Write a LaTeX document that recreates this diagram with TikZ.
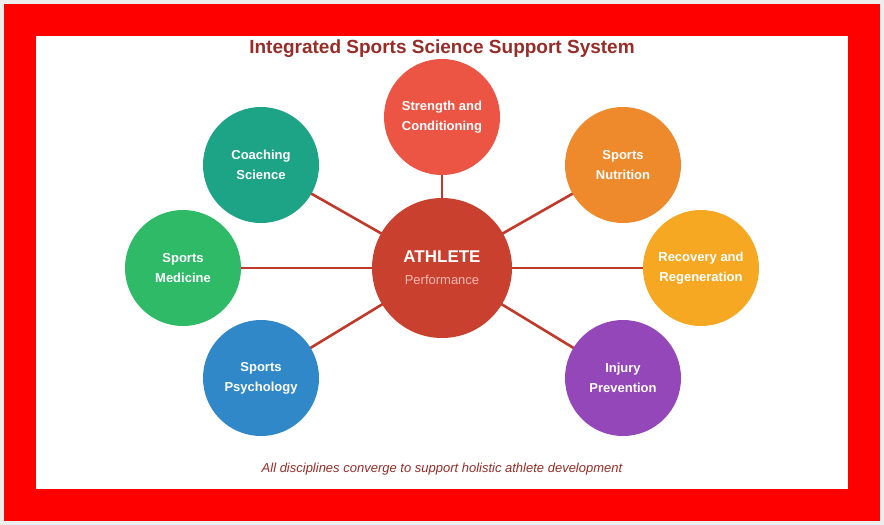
\documentclass[tikz,border=0pt]{standalone}
\usepackage{fontspec}
\setmainfont{Liberation Sans}
\definecolor{pagegray}{HTML}{EDEDED}
\definecolor{framered}{HTML}{FF0000}
\definecolor{titlered}{HTML}{962D28}
\definecolor{linkred}{HTML}{C0392B}
\definecolor{centerred}{HTML}{C9402F}
\definecolor{perfpink}{HTML}{F5B7B1}
\definecolor{cStrength}{HTML}{EC5443}
\definecolor{cCoach}{HTML}{1DA486}
\definecolor{cNutri}{HTML}{EF8A2C}
\definecolor{cRecov}{HTML}{F6A822}
\definecolor{cMed}{HTML}{2EBA66}
\definecolor{cPsych}{HTML}{3188C8}
\definecolor{cInjury}{HTML}{9447B8}
\tikzset{
  sat/.style={circle, minimum size=116pt, inner sep=0pt, text=white, align=center,
    font=\fontsize{13}{20}\selectfont\bfseries},
  hub/.style={circle, minimum size=140pt, inner sep=0pt, fill=centerred, align=center},
  link/.style={draw=linkred, line width=2.6pt}
}
\begin{document}
\begin{tikzpicture}[x=1pt,y=-1pt]
\fill[pagegray] (0,0) rectangle (884,525);
\useasboundingbox (0,0) rectangle (884,525);
\fill[framered] (4,4) rectangle (880,521);
\fill[white] (36,36) rectangle (848,489);
\node[font=\fontsize{19}{22}\selectfont\bfseries, text=titlered] (title) at (442,49) {Integrated Sports Science Support System};
\coordinate (hc) at (442,268);
\coordinate (p1) at (442,117);
\coordinate (p2) at (261,165);
\coordinate (p3) at (623,165);
\coordinate (p4) at (183,268);
\coordinate (p5) at (701,268);
\coordinate (p6) at (261,378);
\coordinate (p7) at (623,378);
\foreach \p in {p1,p2,p3,p4,p5,p6,p7} \draw[link] (hc) -- (\p);
\node[hub] (hub) at (hc) {\fontsize{17}{22}\selectfont\bfseries\color{white}ATHLETE\\[10pt]\fontsize{13}{16}\selectfont\color{perfpink}Performance};
\node[sat, fill=cStrength] (strength) at (p1) {Strength and\\Conditioning};
\node[sat, fill=cCoach] (coach) at (p2) {Coaching\\Science};
\node[sat, fill=cNutri] (nutri) at (p3) {Sports\\Nutrition};
\node[sat, fill=cMed] (med) at (p4) {Sports\\Medicine};
\node[sat, fill=cRecov] (recov) at (p5) {Recovery and\\Regeneration};
\node[sat, fill=cPsych] (psych) at (p6) {Sports\\Psychology};
\node[sat, fill=cInjury] (injury) at (p7) {Injury\\Prevention};
\node[font=\fontsize{13}{16}\selectfont\itshape, text=titlered] (foot) at (442,469) {All disciplines converge to support holistic athlete development};
\end{tikzpicture}
\end{document}
